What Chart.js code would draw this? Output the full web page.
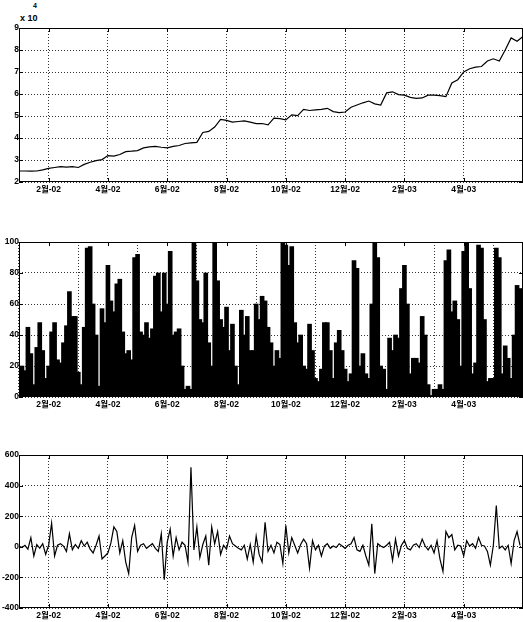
<!DOCTYPE html>
<html lang="ko">
<head>
<meta charset="utf-8">
<title>주가 / 거래량 / 변화</title>
<script src="https://cdn.jsdelivr.net/npm/chart.js@4.4.1/dist/chart.umd.min.js"></script>
<style>
  body { margin: 0; width: 523px; height: 622px; overflow: hidden; background: #fff; position: relative; }
  canvas { position: absolute; left: 0; }
  #c1 { top: 0; }
  #c2 { top: 215px; }
  #c3 { top: 430px; }
  .expo { position: absolute; font: bold 9px 'Liberation Sans Narrow', 'Liberation Sans', sans-serif; color: #000; }
</style>
</head>
<body>
<div class="expo" style="left:33px; top:2px; font-size:7px;">4</div>
<div class="expo" style="left:20px; top:13px;">x 10</div>
<canvas id="c1" width="523" height="200"></canvas>
<canvas id="c2" width="523" height="200"></canvas>
<canvas id="c3" width="523" height="196"></canvas>
<script>
// x axis: months since 2002-01 (0 = start of Jan 2002)
const monthTicks = [1, 3, 5, 7, 9, 11, 13, 15];
const monthLabels = ['2월-02', '4월-02', '6월-02', '8월-02', '10월-02', '12월-02', '2월-03', '4월-03'];
const xMin = 0, xMax = 17;

// top panel, x 10^4, one value every 0.2 month
const priceStep = 0.2;
const price = [
  2.5, 2.5, 2.49, 2.5, 2.55, 2.62, 2.66, 2.7, 2.68, 2.7,
  2.66, 2.8, 2.9, 2.97, 3.02, 3.2, 3.18, 3.25, 3.38, 3.4,
  3.43, 3.55, 3.6, 3.62, 3.58, 3.55, 3.62, 3.66, 3.75, 3.78,
  3.8, 4.25, 4.3, 4.5, 4.85, 4.8, 4.72, 4.75, 4.78, 4.72,
  4.65, 4.66, 4.6, 4.9, 4.88, 4.82, 5.05, 5.02, 5.3, 5.25,
  5.28, 5.3, 5.35, 5.2, 5.15, 5.18, 5.4, 5.5, 5.6, 5.68,
  5.55, 5.5, 6.05, 6.1, 5.97, 5.95, 5.85, 5.8, 5.82, 5.95,
  5.95, 5.93, 5.88, 6.5, 6.65, 7.0, 7.15, 7.22, 7.25, 7.5,
  7.6, 7.5, 8.0, 8.55, 8.4, 8.62
];

// middle panel, 0..100, one bar every 0.1 month
const volStep = 0.1;
const volume = [
  3, 20, 17, 45, 28, 8, 32, 48, 30, 12,
  20, 42, 48, 24, 22, 35, 46, 68, 52, 52,
  16, 8, 45, 96, 97, 60, 40, 7, 57, 48,
  85, 62, 55, 73, 76, 42, 28, 30, 24, 90,
  92, 42, 40, 48, 38, 44, 78, 80, 55, 80,
  60, 94, 40, 42, 44, 20, 5, 7, 5, 100,
  75, 50, 48, 80, 35, 20, 100, 75, 50, 45,
  58, 30, 47, 20, 8, 56, 40, 52, 30, 30,
  60, 50, 65, 62, 45, 35, 20, 30, 25, 100,
  98, 85, 97, 48, 35, 40, 20, 18, 47, 30,
  12, 10, 18, 48, 48, 30, 12, 35, 43, 30,
  18, 10, 15, 88, 83, 20, 28, 15, 12, 60,
  100, 90, 20, 18, 5, 38, 30, 40, 38, 70,
  85, 60, 15, 25, 25, 22, 52, 40, 8, 1,
  5, 5, 8, 5, 88, 95, 55, 62, 50, 20,
  94, 100, 70, 15, 22, 98, 96, 50, 10, 12,
  12, 96, 90, 15, 33, 25, 12, 40, 72, 70
];

// bottom panel, -400..600, one value every 0.1 month
const changeStep = 0.1;
const change = [
  5, -5, 10, -15, 60, -60, 15, -10, 20, -50,
  10, 155, -60, 10, 20, 5, -30, 85, -20, 15,
  -10, 40, 5, 30, -15, -40, 10, 70, -80, -60,
  -40, 25, 130, 100, -40, 40, -100, -175, 60, 140,
  -30, 10, 20, -10, 5, 20, -10, -30, 85, -215,
  30, 115, -60, 60, -20, 30, 10, -100, 520, -20,
  130, -70, 15, 70, -120, 130, 20, 100, -50, 10,
  -15, 70, 20, 5, -10, -20, 10, -80, 15, -100,
  70, -50, -100, 160, -30, 10, -40, 30, 15, -110,
  140, -40, 60, 10, -40, 15, 50, 20, -140, 40,
  -20, 10, -60, 5, 20, -10, 5, -5, 20, 5,
  -10, 10, 20, 60, -20, -30, 10, -60, -120, 150,
  -175, 20, 5, -5, 10, 30, -90, 50, -60, 10,
  40, -10, -20, 10, 20, -5, 50, 5, -20, 10,
  -40, 40, -80, -160, 100, 60, 80, -20, 10, 5,
  -60, 40, 5, 20, -10, 60, 10, 5, -30, -120,
  10, 270, -10, 5, -20, 10, -110, 40, 100, 10
];

const tickFont = { family: "'Liberation Sans Narrow', 'Liberation Sans', 'Noto Sans CJK KR', sans-serif", size: 8.5, weight: 'bold' };

// frame + small inward ticks, like the original plot box
const framePlugin = {
  id: 'frame',
  afterDraw(chart) {
    const ctx = chart.ctx, a = chart.chartArea;
    ctx.save();
    ctx.strokeStyle = '#000';
    ctx.lineWidth = 1;
    ctx.strokeRect(a.left + 0.5, a.top + 0.5, a.width - 1, a.height - 1);
    const xs = chart.scales.x, ys = chart.scales.y;
    ctx.beginPath();
    xs.ticks.forEach(t => {
      const px = Math.round(xs.getPixelForValue(t.value)) + 0.5;
      ctx.moveTo(px, a.top); ctx.lineTo(px, a.top + 4);
      ctx.moveTo(px, a.bottom); ctx.lineTo(px, a.bottom - 4);
    });
    ys.ticks.forEach(t => {
      const py = Math.round(ys.getPixelForValue(t.value)) + 0.5;
      ctx.moveTo(a.left, py); ctx.lineTo(a.left + 4, py);
      ctx.moveTo(a.right, py); ctx.lineTo(a.right - 4, py);
    });
    ctx.stroke();
    ctx.restore();
  }
};

function makeChart(id, type, values, step, yMin, yMax, yStep, padTop) {
  const points = values.map((v, i) => ({ x: i * step, y: v }));
  const ds = type === 'bar'
    ? { data: points, backgroundColor: '#000', borderWidth: 0, barThickness: 4 }
    : { data: points, borderColor: '#000', borderWidth: 1.2, pointRadius: 0, tension: 0 };
  return new Chart(document.getElementById(id), {
    type: type,
    data: { datasets: [ds] },
    plugins: [framePlugin],
    options: {
      responsive: false,
      animation: false,
      layout: { padding: { top: padTop, right: 0, left: 0, bottom: 0 } },
      plugins: { legend: { display: false }, tooltip: { enabled: false } },
      scales: {
        x: {
          type: 'linear',
          min: xMin, max: xMax,
          offset: false,
          afterBuildTicks: s => { s.ticks = monthTicks.map(v => ({ value: v })); },
          afterFit: s => { s.height = 18; },
          ticks: {
            autoSkip: false, maxRotation: 0, padding: 3, color: '#000', font: tickFont,
            callback: (v) => monthLabels[monthTicks.indexOf(v)]
          },
          grid: { color: '#333', drawTicks: false },
          border: { display: false, dash: [1, 2] }
        },
        y: {
          min: yMin, max: yMax,
          ticks: { stepSize: yStep, padding: 0, color: '#000', font: tickFont },
          afterFit: s => { s.width = 19; },
          grid: { color: '#333', drawTicks: false },
          border: { display: false, dash: [1, 2] }
        }
      }
    }
  });
}

makeChart('c1', 'line', price, priceStep, 2, 9, 1, 28);
makeChart('c2', 'bar', volume, volStep, 0, 100, 20, 27);
makeChart('c3', 'line', change, changeStep, -400, 600, 200, 25);
</script>
</body>
</html>
